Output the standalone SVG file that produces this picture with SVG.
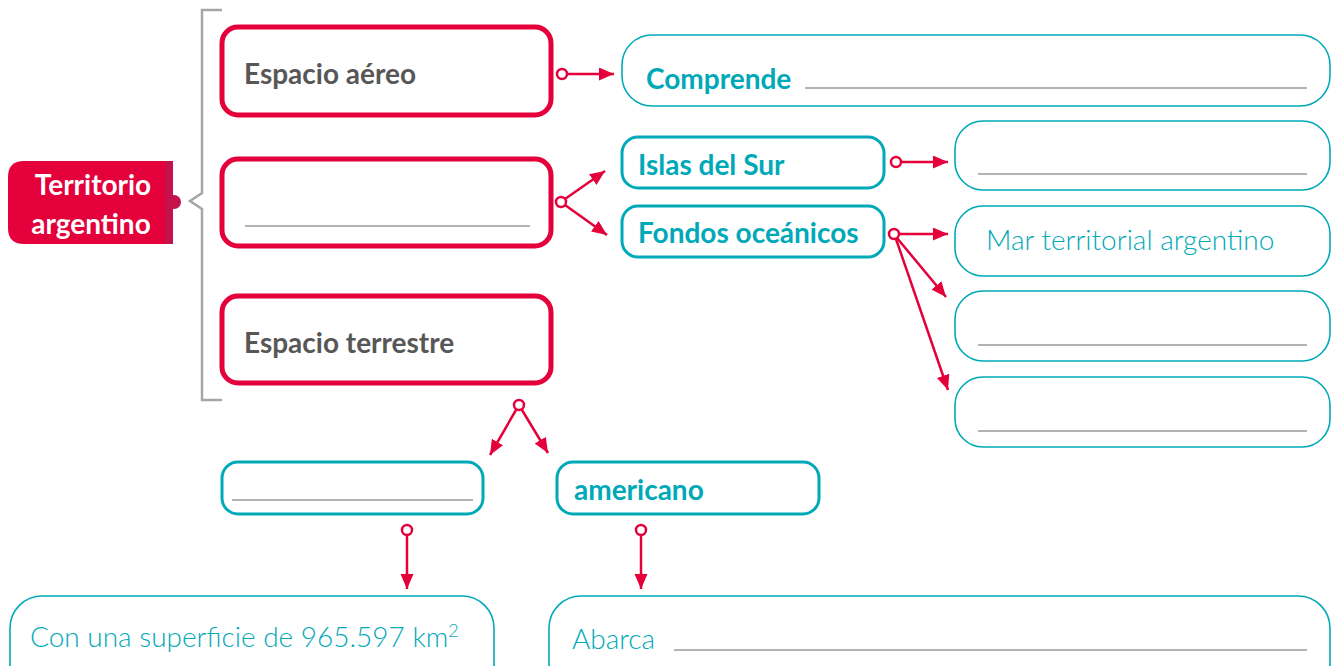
<svg xmlns="http://www.w3.org/2000/svg" width="1332" height="666" viewBox="0 0 1332 666">
<defs>
<marker id="ah" markerUnits="userSpaceOnUse" markerWidth="16" markerHeight="14" refX="15" refY="6.5" orient="auto">
<path d="M0,0 L15,6.5 L0,13 Z" fill="#e4003a"/>
</marker>
</defs>
<style>
.red{fill:#fff;stroke:#e4003a;stroke-width:5}
.tk{fill:#fff;stroke:#00a9b8;stroke-width:3}
.tn{fill:#fff;stroke:#00a9b8;stroke-width:1.6}
.gl{stroke:#b3b3b3;stroke-width:2}
.gt{font-family:Lato,"Open Sans",sans-serif;font-weight:bold;font-size:28px;fill:#575757}
.bt{font-family:Lato,"Open Sans",sans-serif;font-weight:bold;font-size:28px;fill:#00a9b8}
.lt{font-family:Lato,"Open Sans",sans-serif;font-weight:300;font-size:28px;fill:#00a9b8}
.wt{font-family:Lato,"Open Sans",sans-serif;font-weight:bold;font-size:28px;fill:#fff}
.cn line{stroke:#e4003a;stroke-width:2.5;marker-end:url(#ah)}
.cn circle{fill:#fff;stroke:#e4003a;stroke-width:2.5}
</style>
<rect width="1332" height="666" fill="#fff"/>

<g id="bracket">
<path d="M222,10 L202,10 L202,193 L190,201 L202,209 L202,400 L222,400" fill="none" stroke="#a6a6a6" stroke-width="2.5"/>
</g>

<g id="territorio">
<path d="M173,161 L24,161 Q8,161 8,177 L8,228 Q8,244 24,244 L173,244 Z" fill="#e4003a"/>
<rect x="165" y="161" width="8" height="83" fill="#c4124b"/>
<circle cx="174" cy="202" r="7" fill="#c4124b"/>
<text class="wt" x="93" y="195" text-anchor="middle">Territorio</text>
<text class="wt" x="91" y="234" text-anchor="middle">argentino</text>
</g>

<g id="espacio-aereo">
<rect class="red" x="222" y="27" width="329" height="88" rx="16"/>
<text class="gt" x="244" y="84">Espacio aéreo</text>
</g>

<g id="espacio-blank">
<rect class="red" x="222" y="159" width="329" height="87" rx="16"/>
<line class="gl" x1="245" y1="226" x2="530" y2="226"/>
</g>

<g id="espacio-terrestre">
<rect class="red" x="222" y="296" width="329" height="87" rx="16"/>
<text class="gt" x="244" y="353">Espacio terrestre</text>
</g>

<g id="comprende">
<rect class="tn" x="622" y="35" width="708" height="71" rx="30"/>
<text class="bt" x="646" y="89">Comprende</text>
<line class="gl" x1="805" y1="88" x2="1307" y2="88"/>
</g>

<g id="islas">
<rect class="tk" x="622" y="137" width="262" height="51" rx="16"/>
<text class="bt" x="638" y="175">Islas del Sur</text>
</g>

<g id="fondos">
<rect class="tk" x="622" y="206" width="262" height="51" rx="16"/>
<text class="bt" x="638" y="243">Fondos oceánicos</text>
</g>

<g id="r1">
<rect class="tn" x="955" y="121" width="375" height="69" rx="28"/>
<line class="gl" x1="978" y1="174" x2="1307" y2="174"/>
</g>
<g id="r2">
<rect class="tn" x="955" y="206" width="375" height="70" rx="28"/>
<text class="lt" x="986" y="250" font-size="29">Mar territorial argentino</text>
</g>
<g id="r3">
<rect class="tn" x="955" y="291" width="375" height="70" rx="28"/>
<line class="gl" x1="978" y1="345" x2="1307" y2="345"/>
</g>
<g id="r4">
<rect class="tn" x="955" y="377" width="375" height="70" rx="28"/>
<line class="gl" x1="978" y1="431" x2="1307" y2="431"/>
</g>

<g id="b-blank">
<rect class="tk" x="222" y="462" width="261" height="52" rx="16"/>
<line class="gl" x1="232" y1="500" x2="473" y2="500"/>
</g>
<g id="americano">
<rect class="tk" x="557" y="462" width="262" height="52" rx="16"/>
<text class="bt" x="574" y="500">americano</text>
</g>

<g id="superficie">
<rect class="tn" x="10" y="596" width="484" height="100" rx="32"/>
<text class="lt" x="30" y="647">Con una superficie de 965.597 km<tspan font-size="18" dy="-10">2</tspan></text>
</g>
<g id="abarca">
<rect class="tn" x="549" y="596" width="781" height="100" rx="32"/>
<text class="lt" x="572" y="649" font-size="30">Abarca</text>
<line class="gl" x1="674" y1="650" x2="1307" y2="650"/>
</g>

<g id="connectors" class="cn">
<line x1="567" y1="74" x2="614" y2="74"/>
<circle cx="562" cy="74" r="5"/>
<line x1="565" y1="199" x2="605" y2="171"/>
<line x1="565" y1="205" x2="607" y2="235"/>
<circle cx="561" cy="202" r="5"/>
<line x1="901" y1="162" x2="948" y2="162"/>
<circle cx="896" cy="162" r="5"/>
<line x1="899" y1="234" x2="948" y2="234"/>
<line x1="897" y1="238" x2="946" y2="297"/>
<line x1="896" y1="239" x2="948" y2="390"/>
<circle cx="894" cy="234" r="5"/>
<line x1="516" y1="410" x2="490" y2="455"/>
<line x1="522" y1="410" x2="548" y2="453"/>
<circle cx="519" cy="405" r="5"/>
<line x1="407" y1="536" x2="407" y2="589"/>
<circle cx="407" cy="530" r="5"/>
<line x1="641" y1="536" x2="641" y2="589"/>
<circle cx="641" cy="530" r="5"/>
</g>
</svg>
